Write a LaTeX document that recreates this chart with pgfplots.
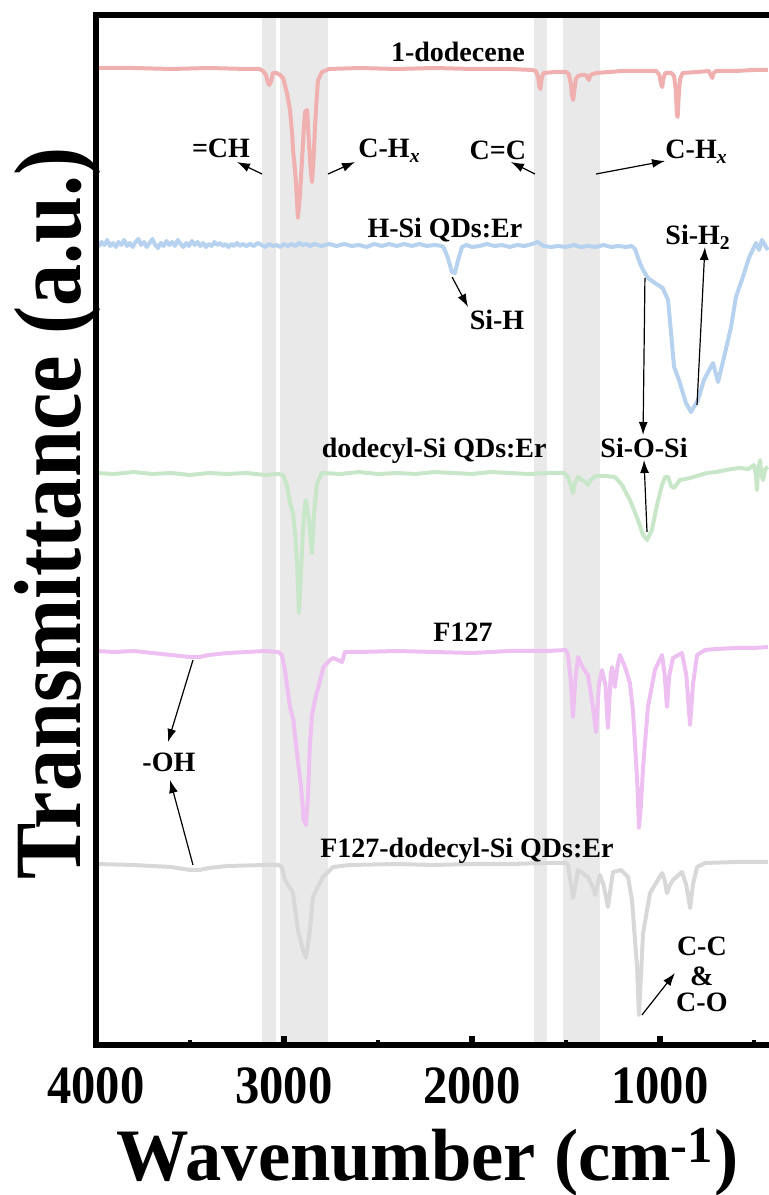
\documentclass[border=0pt]{standalone}
\usepackage{fontspec}
\setmainfont{Liberation Serif}
\newfontfamily\tickfont{Liberation Serif}[FakeStretch=0.9]
\newfontfamily\xlabfont{Liberation Serif}[FakeStretch=0.98]
\usepackage{pgfplots}
\pgfplotsset{compat=1.18}
\usetikzlibrary{arrows.meta}

\definecolor{cpink}{RGB}{240,176,176}
\definecolor{cblue}{RGB}{182,210,238}
\definecolor{cgreen}{RGB}{200,230,200}
\definecolor{cviolet}{RGB}{238,192,242}
\definecolor{cgray}{RGB}{216,216,216}
\definecolor{cband}{RGB}{233,233,233}

\newcommand\lab{\fontsize{14}{16}\selectfont\bfseries}

\begin{document}
\begin{tikzpicture}
\begin{axis}[
  width=338.4pt, height=515pt, scale only axis,
  at={(0,0)}, anchor=south west,
  xmin=400, xmax=4000, ymin=0, ymax=1030, x dir=reverse,
  xtick={1000,2000,3000,4000}, minor xtick={500,1500,2500,3500}, ytick=\empty,
  xtick pos=left, tick align=inside,
  major tick length=4.5pt, minor tick length=2.5pt,
  major tick style={line width=3pt, black},
  minor tick style={line width=2pt, black},
  axis line style={line width=3pt},
  axis on top,
  /pgf/number format/assume math mode=true,
  /pgf/number format/set thousands separator={},
  xticklabel style={font=\tickfont\fontsize{27}{27}\selectfont\bfseries, inner sep=0pt, anchor=north, yshift=-11pt},
  xlabel={Wavenumber (cm\textsuperscript{-1})},
  xlabel style={font=\xlabfont\fontsize{37}{40}\selectfont\bfseries, at={(axis description cs:0.49,-0.132)}, anchor=base, inner sep=0pt},
  every axis plot/.append style={line width=2pt, line join=round},
]
% marked bands
\fill[cband] (axis cs:3117,0) rectangle (axis cs:3043,1030);
\fill[cband] (axis cs:3021,0) rectangle (axis cs:2766,1030);
\fill[cband] (axis cs:1670,0) rectangle (axis cs:1601,1030);
\fill[cband] (axis cs:1516,0) rectangle (axis cs:1319,1030);

% 1-dodecene
\addplot[cpink] coordinates {
(4000,977)(3800,977)(3600,976)(3400,977)(3200,976)(3130,976)(3112,974)(3096,970)(3085,962)(3078,960)(3068,964)(3059,972)(3040,972)(3021,970)(3005,967)(2984,952)(2968,935)(2957,912)(2952,895)(2944,880)(2936,862)(2926,827)(2915,850)(2904,885)(2895,915)(2888,933)(2877,935)(2867,902)(2858,875)(2851,863)(2843,885)(2835,918)(2825,950)(2819,965)(2798,973)(2760,976)(2600,977)(2400,976)(2200,977)(2000,976)(1800,976)(1680,975)(1660,974)(1648,968)(1641,958)(1636,956)(1630,966)(1620,972)(1560,973)(1500,973)(1485,971)(1475,962)(1468,950)(1462,945)(1455,955)(1448,966)(1436,969)(1420,970)(1395,970)(1385,967)(1378,965)(1370,970)(1340,972)(1200,974)(1100,974)(1020,974)(1003,970)(993,960)(988,958)(982,966)(972,972)(940,972)(925,969)(916,955)(910,930)(906,928)(900,950)(893,966)(880,972)(800,973)(740,974)(730,970)(722,967)(715,972)(700,974)(600,974)(500,975)(426,975)
};

% H-Si QDs:Er
\addplot[cblue] coordinates {
(4000,804)(3985,799)(3970,803)(3955,800)(3940,805)(3925,799)(3910,802)(3895,798)(3880,803)(3865,800)(3850,805)(3835,799)(3820,802)(3805,798)(3790,803)(3775,806)(3760,800)(3745,803)(3730,798)(3715,802)(3700,806)(3685,800)(3670,797)(3655,802)(3640,799)(3625,804)(3610,800)(3595,803)(3580,799)(3565,805)(3550,801)(3535,798)(3520,802)(3505,799)(3490,804)(3475,800)(3460,803)(3445,799)(3430,802)(3415,798)(3400,801)(3385,799)(3370,803)(3355,800)(3340,802)(3325,799)(3310,801)(3295,798)(3280,801)(3265,799)(3250,802)(3235,799)(3220,801)(3200,799)(3180,801)(3160,799)(3140,802)(3120,800)(3100,798)(3080,801)(3060,799)(3040,800)(3020,798)(3000,801)(2980,799)(2960,801)(2940,799)(2920,802)(2900,800)(2880,801)(2860,799)(2840,801)(2800,799)(2760,801)(2720,799)(2680,801)(2640,799)(2600,800)(2560,798)(2520,801)(2480,799)(2440,801)(2400,799)(2360,801)(2320,799)(2280,801)(2240,799)(2200,800)(2160,799)(2149,797)(2128,787)(2107,773)(2091,772)(2074,785)(2053,798)(2030,800)(2000,798)(1960,799)(1920,801)(1880,799)(1840,800)(1800,798)(1760,800)(1720,799)(1680,801)(1650,803)(1620,799)(1580,798)(1540,799)(1500,798)(1460,800)(1420,798)(1380,799)(1340,798)(1300,800)(1260,798)(1220,799)(1180,798)(1150,799)(1133,796)(1107,782)(1090,775)(1064,767)(1027,762)(986,757)(957,745)(941,712)(925,678)(899,665)(862,642)(835,633)(798,645)(766,665)(718,682)(691,663)(659,688)(622,718)(596,748)(559,768)(527,787)(489,802)(473,795)(458,805)(426,795)
};

% dodecyl-Si QDs:Er
\addplot[cgreen] coordinates {
(4000,572)(3900,571)(3800,573)(3700,571)(3600,572)(3500,570)(3400,572)(3300,571)(3200,572)(3100,570)(3030,571)(3005,570)(2985,560)(2968,542)(2952,532)(2940,510)(2931,485)(2920,432)(2910,470)(2899,515)(2888,540)(2883,545)(2875,535)(2867,525)(2851,492)(2840,532)(2824,562)(2798,572)(2700,571)(2600,573)(2500,571)(2400,572)(2300,571)(2200,573)(2100,572)(2000,571)(1900,573)(1800,572)(1700,571)(1600,572)(1510,572)(1490,568)(1475,560)(1463,552)(1452,562)(1436,568)(1415,565)(1395,563)(1383,560)(1370,565)(1340,569)(1293,569)(1239,568)(1202,560)(1160,545)(1117,525)(1090,510)(1069,505)(1043,515)(1016,540)(989,560)(973,568)(957,568)(941,559)(925,557)(894,565)(840,567)(787,570)(750,572)(702,573)(650,575)(580,577)(530,576)(500,580)(490,570)(484,555)(478,575)(468,585)(460,570)(452,565)(440,576)(426,578)
};

% F127
\addplot[cviolet] coordinates {
(4000,394)(3900,393)(3800,394)(3700,392)(3600,390)(3500,388)(3450,388)(3400,390)(3300,392)(3200,393)(3100,394)(3030,393)(3011,390)(2995,375)(2968,338)(2950,325)(2930,290)(2910,260)(2895,225)(2883,220)(2872,250)(2862,300)(2851,330)(2835,345)(2790,378)(2755,385)(2739,387)(2713,385)(2691,383)(2676,393)(2600,393)(2400,394)(2200,393)(2000,392)(1800,394)(1600,394)(1500,395)(1489,390)(1475,365)(1463,328)(1450,365)(1436,388)(1410,377)(1383,370)(1362,345)(1340,313)(1325,360)(1309,375)(1290,360)(1277,317)(1262,370)(1255,378)(1240,358)(1225,380)(1213,390)(1186,378)(1160,362)(1144,335)(1133,302)(1120,260)(1112,217)(1101,240)(1090,278)(1064,338)(1027,375)(989,390)(975,370)(963,338)(950,370)(931,387)(883,392)(860,370)(840,320)(825,360)(803,390)(760,395)(700,396)(600,397)(500,397)(426,398)
};

% F127-dodecyl-Si QDs:Er
\addplot[cgray] coordinates {
(4000,181)(3800,180)(3600,178)(3500,175)(3450,175)(3400,177)(3300,179)(3100,180)(3030,180)(3011,178)(2995,165)(2952,152)(2926,115)(2899,95)(2883,87)(2862,115)(2846,148)(2793,168)(2739,178)(2650,180)(2400,181)(2200,180)(2000,181)(1800,181)(1600,182)(1500,182)(1489,180)(1463,147)(1436,175)(1383,168)(1350,155)(1345,150)(1319,170)(1300,160)(1277,138)(1250,173)(1207,175)(1170,168)(1149,145)(1122,78)(1112,30)(1101,70)(1090,112)(1053,152)(989,172)(975,165)(963,152)(947,160)(931,165)(883,173)(860,160)(840,137)(825,160)(803,178)(760,182)(600,183)(426,183)
};

% annotations
\tikzset{arr/.style={-{Latex[length=6.5pt,width=4.5pt]}, line width=0.6pt, black}}
\node[anchor=base, inner sep=0pt] at (axis cs:2075,983) {\lab 1-dodecene};
\node[anchor=base, inner sep=0pt] at (axis cs:3335,887) {\lab =CH};
\node[anchor=base west, inner sep=0pt] at (axis cs:2606,887) {\lab C-H\textsubscript{\textit{x}}};
\node[anchor=base, inner sep=0pt] at (axis cs:1862,885) {\lab C=C};
\node[anchor=base west, inner sep=0pt] at (axis cs:973,886) {\lab C-H\textsubscript{\textit{x}}};
\draw[arr] (axis cs:3117,871) -- (axis cs:3250,883);
\draw[arr] (axis cs:2766,871) -- (axis cs:2622,883);
\draw[arr] (axis cs:1665,871) -- (axis cs:1793,883);
\draw[arr] (axis cs:1340,871) -- (axis cs:973,884);

\node[anchor=base, inner sep=0pt] at (axis cs:2144,807) {\lab H-Si QDs:Er};
\node[anchor=base, inner sep=0pt] at (axis cs:1867,715) {\lab Si-H};
\draw[arr] (axis cs:2106,768) -- (axis cs:2021,738);
\node[anchor=base west, inner sep=0pt] at (axis cs:973,800) {\lab Si-H\textsubscript{2}};
\draw[arr] (axis cs:803,640) -- (axis cs:761,798);

\node[anchor=base east, inner sep=0pt] at (axis cs:1601,587) {\lab dodecyl-Si QDs:Er};
\node[anchor=base, inner sep=0pt] at (axis cs:1085,587) {\lab Si-O-Si};
\draw[arr] (axis cs:1080,767) -- (axis cs:1090,610);
\draw[arr] (axis cs:1069,513) -- (axis cs:1085,585);

\node[anchor=base, inner sep=0pt] at (axis cs:2048,403) {\lab F127};
\node[anchor=base, inner sep=0pt] at (axis cs:3612,273) {\lab -OH};
\draw[arr] (axis cs:3484,385) -- (axis cs:3617,303);
\draw[arr] (axis cs:3484,180) -- (axis cs:3606,265);

\node[anchor=base west, inner sep=0pt] at (axis cs:2809,187) {\lab F127-dodecyl-Si QDs:Er};
\node[anchor=base, inner sep=0pt] at (axis cs:777,90) {\lab C-C};
\node[anchor=base, inner sep=0pt] at (axis cs:777,60) {\lab \&};
\node[anchor=base, inner sep=0pt] at (axis cs:777,33) {\lab C-O};
\draw[arr] (axis cs:1096,30) -- (axis cs:920,72);
\end{axis}
% y axis title: 733 px long, its upper end where the reference has it
\node[rotate=90, anchor=base east, inner sep=0pt]
  at (-8pt,449pt) {\resizebox{366pt}{33pt}{\fontsize{46}{50}\selectfont\bfseries Transmittance (a.u.)}};
\pgfresetboundingbox
\path[use as bounding box] (-48pt,-75pt) rectangle (336pt,522.5pt);
\end{tikzpicture}
\end{document}
